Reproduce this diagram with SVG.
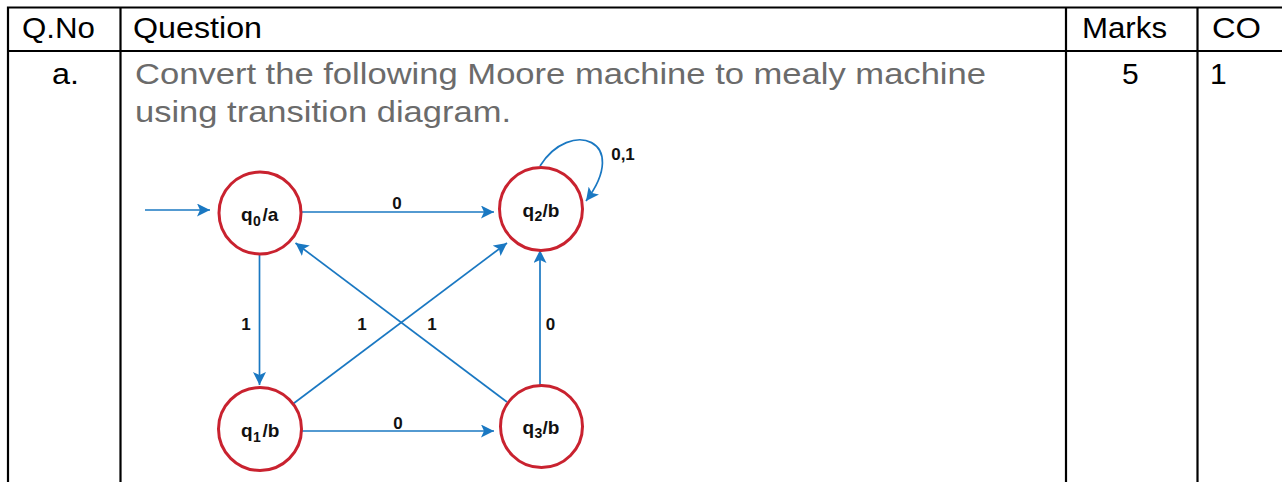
<svg xmlns="http://www.w3.org/2000/svg" width="1282" height="482" viewBox="0 0 1282 482">
<style>
.grid{stroke:#000;stroke-width:2.2;fill:none}
.hd{font-family:"Liberation Sans",Arial,sans-serif;font-size:30px;fill:#000}
.q{font-family:"Liberation Sans",Arial,sans-serif;font-size:30px;fill:#6b6b6b}
.st{fill:#fff;stroke:#c9222f;stroke-width:3}
.nl{font-family:"Liberation Sans",Arial,sans-serif;font-size:19px;font-weight:bold;fill:#111}
.sub{font-size:14px}
.e{stroke:#1a78c2;stroke-width:1.7;fill:none}
.el{font-family:"Liberation Sans",Arial,sans-serif;font-size:17px;font-weight:bold;fill:#111;text-anchor:middle}
</style>
<defs>
<marker id="ah" markerUnits="userSpaceOnUse" markerWidth="14" markerHeight="13" refX="13" refY="6.5" orient="auto">
<path d="M0,0 L13,6.5 L0,13 L3,6.5 z" fill="#1a78c2"/>
</marker>
</defs>
<rect width="1282" height="482" fill="#fff"/>
<g id="table">
<path class="grid" d="M7,7.5 H1282 M7,51 H1282 M8,6.5 V482 M120.5,6.5 V482 M1066,6.5 V482 M1197.5,6.5 V482"/>
<text class="hd" x="22" y="37.5" textLength="73" lengthAdjust="spacingAndGlyphs">Q.No</text>
<text class="hd" x="133" y="37.5" textLength="129" lengthAdjust="spacingAndGlyphs">Question</text>
<text class="hd" x="1082" y="37.5" textLength="85" lengthAdjust="spacingAndGlyphs">Marks</text>
<text class="hd" x="1212" y="37.5" textLength="49" lengthAdjust="spacingAndGlyphs">CO</text>
<text class="hd" x="52" y="83.5" textLength="27" lengthAdjust="spacingAndGlyphs">a.</text>
<text class="q" x="135" y="83.5" textLength="851" lengthAdjust="spacingAndGlyphs">Convert the following Moore machine to mealy machine</text>
<text class="q" x="135" y="121.5" textLength="376" lengthAdjust="spacingAndGlyphs">using transition diagram.</text>
<text class="hd" x="1122" y="83.5">5</text>
<text class="hd" x="1210" y="83.5">1</text>
</g>
<g id="connectors">
<path class="e" d="M145,210 H210" marker-end="url(#ah)"/>
<path class="e" d="M302,212 H494" marker-end="url(#ah)"/>
<path class="e" d="M259.5,254 V385" marker-end="url(#ah)"/>
<path class="e" d="M302,431 H494" marker-end="url(#ah)"/>
<path class="e" d="M293.5,403.5 L507,243" marker-end="url(#ah)"/>
<path class="e" d="M507,402 L295.5,243" marker-end="url(#ah)"/>
<path class="e" d="M540,386 V250" marker-end="url(#ah)"/>
<path class="e" d="M540,166 C570,118 632,140 586,201" marker-end="url(#ah)"/>
<text class="el" x="397" y="208.5">0</text>
<text class="el" x="246" y="330">1</text>
<text class="el" x="362" y="330">1</text>
<text class="el" x="432" y="330">1</text>
<text class="el" x="550.5" y="330">0</text>
<text class="el" x="398" y="428.5">0</text>
<text class="el" x="623" y="160">0,1</text>
</g>
<g id="q0">
<circle class="st" cx="260" cy="213" r="41"/>
<text class="nl" y="220.5"><tspan x="241">q</tspan><tspan class="sub" x="253" dy="5">0</tspan><tspan x="262.5" dy="-5">/a</tspan></text>
</g>
<g id="q2">
<circle class="st" cx="541" cy="209" r="41.5"/>
<text class="nl" y="217"><tspan x="522.5">q</tspan><tspan class="sub" x="534.5" dy="4">2</tspan><tspan x="542.5" dy="-4">/b</tspan></text>
</g>
<g id="q1">
<circle class="st" cx="260" cy="429" r="41.5"/>
<text class="nl" y="437"><tspan x="241">q</tspan><tspan class="sub" x="253" dy="5">1</tspan><tspan x="262.5" dy="-5">/b</tspan></text>
</g>
<g id="q3">
<circle class="st" cx="541.5" cy="426.5" r="41"/>
<text class="nl" y="433.5"><tspan x="522.5">q</tspan><tspan class="sub" x="534.5" dy="4">3</tspan><tspan x="542.5" dy="-4">/b</tspan></text>
</g>
</svg>
